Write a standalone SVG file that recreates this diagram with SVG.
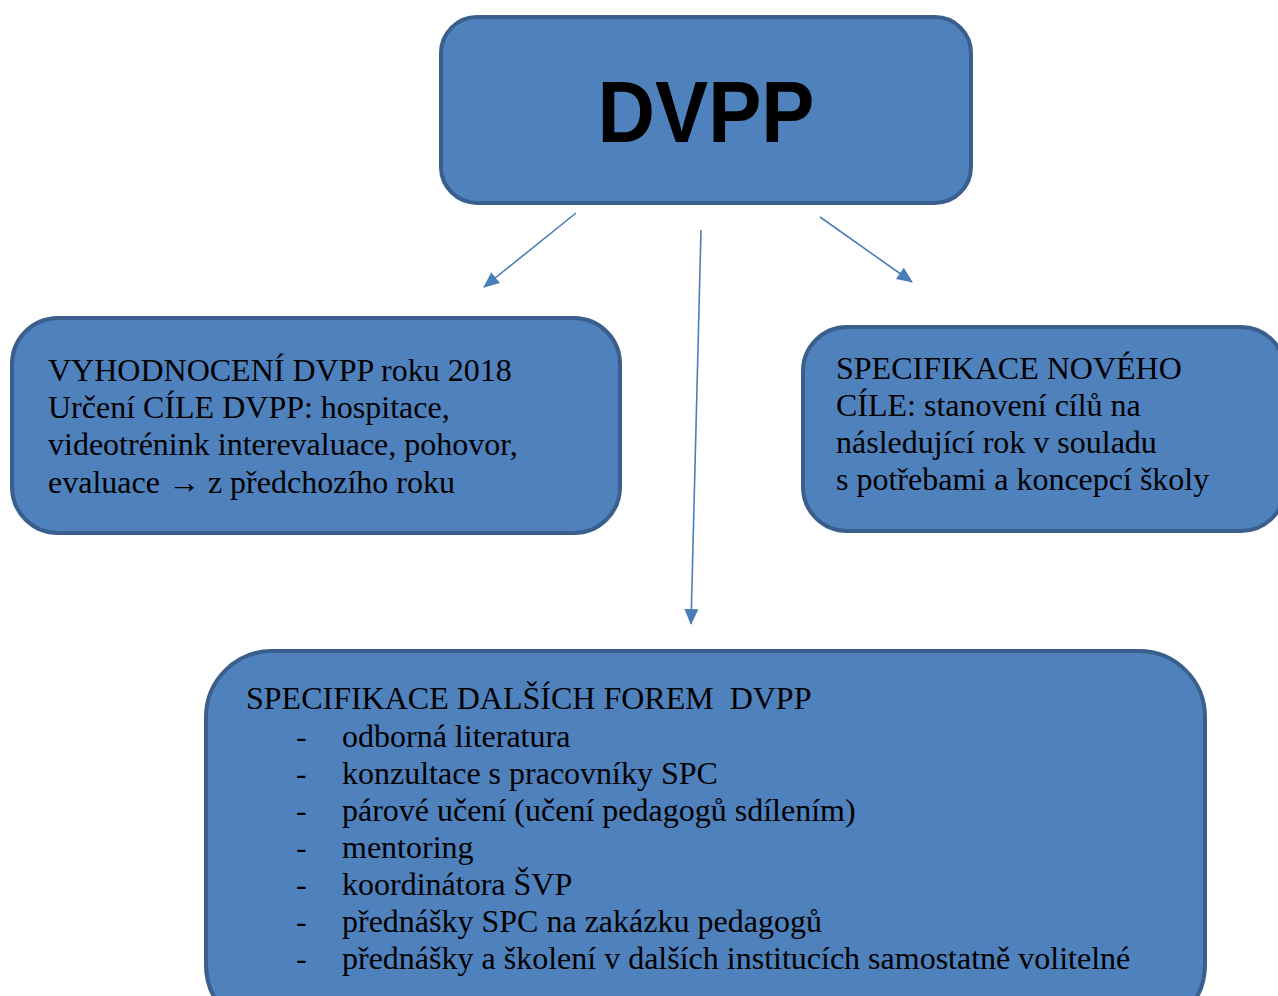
<svg xmlns="http://www.w3.org/2000/svg" width="1278" height="996" viewBox="0 0 1278 996">
<defs>
<style>
.box{fill:#4F81BD;stroke:#3A5F8D;stroke-width:4}
.t{font-family:"Liberation Serif","Times New Roman",serif;font-size:32px;fill:#000}
.conn{stroke:#4A7EBB;stroke-width:1.6;fill:none}
</style>
<marker id="ah" viewBox="0 0 16 14" refX="15" refY="7" markerWidth="16" markerHeight="14" markerUnits="userSpaceOnUse" orient="auto">
<path d="M0,0 L16,7 L0,14 Z" fill="#4A7EBB"/>
</marker>
</defs>
<rect width="1278" height="996" fill="#fff"/>
<g id="connectors">
<line class="conn" x1="576" y1="213" x2="484" y2="287" marker-end="url(#ah)"/>
<line class="conn" x1="701" y1="230" x2="691" y2="624" marker-end="url(#ah)"/>
<line class="conn" x1="820" y1="217" x2="912" y2="282" marker-end="url(#ah)"/>
</g>
<g id="node-dvpp">
<rect class="box" x="441" y="17" width="530" height="186" rx="36"/>
<text x="706" y="142" text-anchor="middle" font-family="'Liberation Sans',Arial,sans-serif" font-weight="bold" font-size="88" textLength="217" lengthAdjust="spacingAndGlyphs">DVPP</text>
</g>
<g id="node-vyhodnoceni">
<rect class="box" x="12" y="318" width="608" height="215" rx="46"/>
<text class="t" x="48" y="381">VYHODNOCENÍ DVPP roku 2018</text>
<text class="t" x="48" y="418">Určení CÍLE DVPP: hospitace,</text>
<text class="t" x="48" y="455">videotrénink interevaluace, pohovor,</text>
<text class="t" x="48" y="493">evaluace → z předchozího roku</text>
</g>
<g id="node-specifikace-noveho">
<rect class="box" x="803" y="327" width="482" height="204" rx="44"/>
<text class="t" x="836" y="379">SPECIFIKACE NOVÉHO</text>
<text class="t" x="836" y="416">CÍLE: stanovení cílů na</text>
<text class="t" x="836" y="453">následující rok v souladu</text>
<text class="t" x="836" y="490">s potřebami a koncepcí školy</text>
</g>
<g id="node-specifikace-dalsich">
<rect class="box" x="206" y="651" width="999" height="380" rx="66"/>
<text class="t" x="246" y="709" style="white-space:pre">SPECIFIKACE DALŠÍCH FOREM  DVPP</text>
<text class="t" x="296" y="747">-</text><text class="t" x="342" y="747">odborná literatura</text>
<text class="t" x="296" y="784">-</text><text class="t" x="342" y="784">konzultace s pracovníky SPC</text>
<text class="t" x="296" y="821">-</text><text class="t" x="342" y="821">párové učení (učení pedagogů sdílením)</text>
<text class="t" x="296" y="858">-</text><text class="t" x="342" y="858">mentoring</text>
<text class="t" x="296" y="895">-</text><text class="t" x="342" y="895">koordinátora ŠVP</text>
<text class="t" x="296" y="932">-</text><text class="t" x="342" y="932">přednášky SPC na zakázku pedagogů</text>
<text class="t" x="296" y="969">-</text><text class="t" x="342" y="969">přednášky a školení v dalších institucích samostatně volitelné</text>
</g>
</svg>
